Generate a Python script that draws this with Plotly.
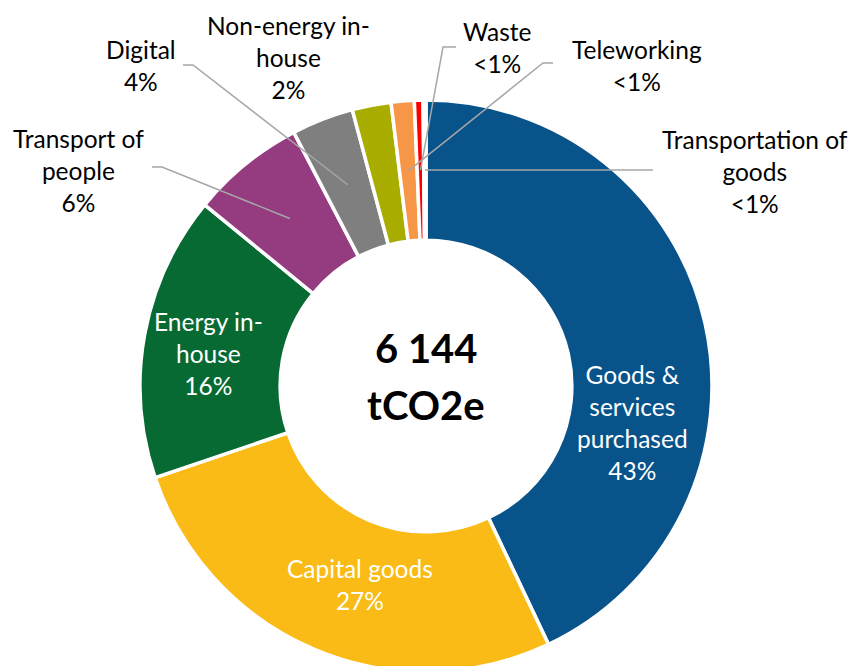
import math
import plotly.graph_objects as go

# ---- data ----
categories = ["Goods & services purchased", "Capital goods", "Energy in-house",
              "Transport of people", "Digital", "Non-energy in-house",
              "Teleworking", "Waste", "Transportation of goods"]
values_t = [2639, 1650, 990, 395, 215, 135, 80, 30, 10]   # tCO2e
label_text = ["Goods &<br>services<br>purchased<br>43%", "Capital goods<br>27%",
              "Energy in-<br>house<br>16%", "Transport of<br>people<br>6%",
              "Digital<br>4%", "Non-energy in-<br>house<br>2%",
              "Teleworking<br><1%", "Waste<br><1%", "Transportation of<br>goods<br><1%"]
colors = ["#08538A", "#FABB16", "#086A33", "#953B7F", "#7F7F7F",
          "#A9AD00", "#F79646", "#FF0000", "#F2F2F2"]
total_lines = ["6 144", "tCO2e"]

W, H = 852, 672          # slightly taller than the window: bottom of ring is cropped as in the reference
HOLE = 0.51
# pie geometry (px)
cx, cy_top, R = 426, 386, 286
dom_x = [(cx - R) / W, (cx + R) / W]
dom_y = [0, 2 * R / H]

def px(x, y):
    return x / W, 1 - y / H

fig = go.Figure(go.Pie(
    labels=categories, values=values_t, hole=HOLE, sort=False,
    direction="clockwise", rotation=0,
    marker=dict(colors=colors, line=dict(color="white", width=3.5)),
    textinfo="none", hoverinfo="label+value+percent",
    domain=dict(x=dom_x, y=dom_y), showlegend=False))

# label positions (text layout, px), and leader-line elbows
label_pos = {
    "Goods & services purchased": (632, 422, "white", None),
    "Capital goods": (360, 584, "white", None),
    "Energy in-house": (208, 353, "white", None),
    "Transport of people": (78, 170, "black", [(152, 167), (162, 167)]),
    "Digital": (141, 66, "black", [(183, 65), (193, 65)]),
    "Non-energy in-house": (288, 57, "black", None),
    "Teleworking": (637, 66, "black", [(553, 63), (543, 63)]),
    "Waste": (497, 48, "black", [(456, 47), (443, 47)]),
    "Transportation of goods": (755, 171, "black", [(653, 170)]),
}

FONT = "Lato, Calibri, Carlito, sans-serif"
total = sum(values_t)
cum = 0
r_mid = R * (1 + HOLE) / 2
shapes = []
annotations = []
for cat, v, txt in zip(categories, values_t, label_text):
    mid = (cum + v / 2) / total
    cum += v
    lx, ly, col, elbow = label_pos[cat]
    ax_, ay_ = px(lx, ly)
    annotations.append(dict(x=ax_, y=ay_, xref="paper", yref="paper", text=txt,
                            xanchor="center", yanchor="middle",
                            showarrow=False, align="center",
                            font=dict(family=FONT, size=24.5, color=col)))
    if elbow:
        th = 2 * math.pi * mid
        ex = cx + r_mid * math.sin(th)
        ey = cy_top - r_mid * math.cos(th)
        pts = elbow + [(ex, ey)]
        path = "M " + " L ".join(f"{px(a, b)[0]},{px(a, b)[1]}" for a, b in pts)
        shapes.append(dict(type="path", path=path, xref="paper", yref="paper",
                           line=dict(color="#A6A6A6", width=1.5)))

for line, yy in zip(total_lines, [348, 405]):
    cxp, cyp = px(cx, yy)
    annotations.append(dict(x=cxp, y=cyp, xref="paper", yref="paper", text="<b>" + line + "</b>",
                            xanchor="center", yanchor="middle",
                            showarrow=False, align="center",
                            font=dict(family=FONT, size=40, color="black")))

fig.update_layout(width=W, height=H, margin=dict(l=0, r=0, t=0, b=0),
                  paper_bgcolor="white", plot_bgcolor="white",
                  shapes=shapes, annotations=annotations)
fig.write_html("out.html", config={"displayModeBar": False},
               post_script="document.body.style.margin='0';document.body.style.overflow='hidden';")
